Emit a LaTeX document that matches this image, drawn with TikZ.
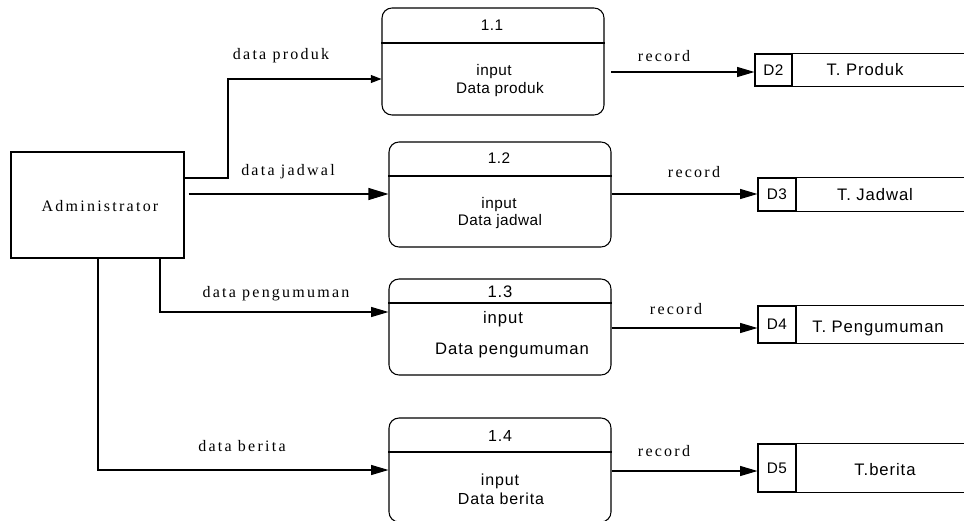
\documentclass[tikz,border=0pt]{standalone}
\usepackage{fontspec}
\setmainfont{Liberation Serif}
\newfontfamily\lblfont[LetterSpace=14]{Liberation Serif}
\newfontfamily\boxfont[LetterSpace=3]{Liberation Sans}
\newfontfamily\wideboxfont[LetterSpace=5.5]{Liberation Sans}
\usetikzlibrary{arrows.meta}
\begin{document}
\begin{tikzpicture}[x=0.75pt,y=-0.75pt,
  line width=0.8pt,
  entity/.style={draw, rectangle, minimum width=129.75pt, minimum height=79.5pt, inner sep=0pt},
  proc/.style={draw, rectangle, rounded corners=7.5pt, minimum width=166.5pt, inner sep=0pt},
  storeid/.style={draw, rectangle, minimum width=28.5pt, inner sep=0pt, font=\boxfont\fontsize{11.5}{13}\selectfont},
  ptext/.style={inner sep=0pt, font=\boxfont\fontsize{11.5}{13}\selectfont},
  ptextbig/.style={inner sep=0pt, font=\wideboxfont\fontsize{12.5}{14}\selectfont},
  ptextmid/.style={inner sep=0pt, font=\wideboxfont\fontsize{12}{14}\selectfont},
  flowlbl/.style={inner sep=0pt, font=\lblfont\fontsize{12}{14}\selectfont},
  bigtip/.style={-{Triangle[length=15pt,width=9pt]}},
  midtip/.style={-{Triangle[length=13pt,width=7.5pt]}},
  smalltip/.style={-{Triangle[length=8pt,width=6pt]}}
]
\useasboundingbox (0,0) rectangle (964,521);
\clip (0,0) rectangle (964,521);

% external entity
\node[entity] (adm) at (97.5,205) {};
\node[flowlbl] (admtxt) at (100,206) {Administrator};

% processes
\node[proc, minimum height=80.25pt] (p11) at (493,61.5) {};
\node[proc, minimum height=78.75pt] (p12) at (500,194.5) {};
\node[proc, minimum height=72pt] (p13) at (500,327) {};
\node[proc, minimum height=78pt] (p14) at (500,470) {};
\draw (p11.west |- 0,43) -- (p11.east |- 0,43);
\draw (p12.west |- 0,176) -- (p12.east |- 0,176);
\draw (p13.west |- 0,303) -- (p13.east |- 0,303);
\draw (p14.west |- 0,452) -- (p14.east |- 0,452);

\node[ptext] (n11) at (492,25) {1.1};
\node[ptext] (i11) at (494,72) {input};
\node[ptext] (t11) at (500,90) {Data produk};
\node[ptext] (n12) at (499,158) {1.2};
\node[ptext] (i12) at (499,205) {input};
\node[ptext] (t12) at (500,222) {Data jadwal};
\node[ptextbig] (n13) at (500,292) {1.3};
\node[ptextbig] (i13) at (503,319) {input};
\node[ptextbig] (t13) at (512,350) {Data pengumuman};
\node[ptextmid] (n14) at (500,436) {1.4};
\node[ptextmid] (i14) at (500,481) {input};
\node[ptextmid] (t14) at (501,499) {Data berita};

% data stores (open on the right)
\node[storeid, minimum width=27.75pt, minimum height=24pt] (d2) at (773.5,70) {D2};
\node[storeid, minimum height=24.75pt] (d3) at (777,194.5) {D3};
\node[storeid, minimum height=27.75pt] (d4) at (777,324.5) {D4};
\node[storeid, minimum height=36pt] (d5) at (777,468) {D5};
\foreach \s in {d2,d3,d4,d5}{
  \draw (\s.north east) -- (\s.north east -| 980,0);
  \draw (\s.south east) -- (\s.south east -| 980,0);
}
\node[ptextbig] (s2) at (865,70) {T. Produk};
\node[ptextbig] (s3) at (875,195) {T. Jadwal};
\node[ptextbig] (s4) at (878,328) {T. Pengumuman};
\node[ptextbig] (s5) at (885,470) {T.berita};

% flows from the administrator
\coordinate (b1) at (228,178);
\draw[smalltip] (adm.east |- b1) -- (b1) |- (p11.west |- 0,79);
\draw[bigtip, shorten <=3pt] (adm.east |- 0,194) -- (p12.west |- 0,194);
\draw[midtip] (adm.south -| 160,0) |- (p13.west |- 0,312);
\draw[midtip] (adm.south -| 98,0) |- (p14.west |- 0,470);

\node[flowlbl] (l1) at (281,56) {data produk};
\node[flowlbl] (l2) at (288,172) {data jadwal};
\node[flowlbl] (l3) at (276,294) {data pengumuman};
\node[flowlbl] (l4) at (242,446) {data berita};

% flows into the stores
\draw[midtip, shorten <=5pt] (p11.east |- 0,72) -- (d2.west |- 0,72);
\draw[midtip] (p12.east |- 0,194) -- (d3.west |- 0,194);
\draw[midtip] (p13.east |- 0,328) -- (d4.west |- 0,328);
\draw[midtip] (p14.east |- 0,471) -- (d5.west |- 0,471);

\node[flowlbl] (r1) at (664,56) {record};
\node[flowlbl] (r2) at (694,172) {record};
\node[flowlbl] (r3) at (676,309) {record};
\node[flowlbl] (r4) at (664,451) {record};
\end{tikzpicture}
\end{document}
